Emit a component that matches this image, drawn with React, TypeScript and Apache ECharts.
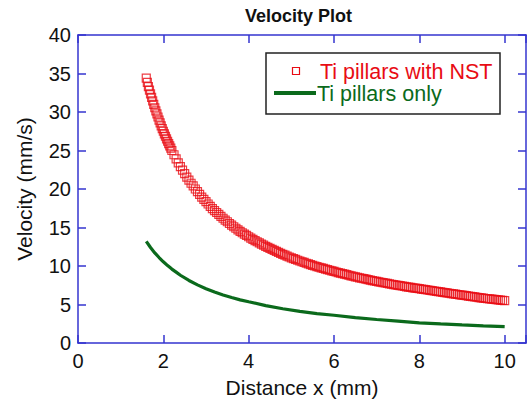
import React, { useEffect, useRef } from "react";
import * as echarts from "echarts";

// Red series: Ti pillars with NST (distance x in mm, velocity in mm/s)
const nstX = [
  1.6, 1.625, 1.65, 1.675, 1.7, 1.725, 1.75, 1.775, 1.8, 1.825, 1.85, 1.875, 1.9, 1.925, 1.95, 1.975,
  2.0, 2.025, 2.05, 2.075, 2.1, 2.125, 2.15, 2.175, 2.2,
  2.25, 2.3, 2.35, 2.4, 2.45, 2.5, 2.55, 2.6, 2.65, 2.7, 2.75, 2.8, 2.85, 2.9, 2.95, 3.0,
  3.05, 3.1, 3.15, 3.2, 3.25, 3.3, 3.35, 3.4, 3.45, 3.5,
  3.55, 3.6, 3.65, 3.7, 3.75, 3.8, 3.85, 3.9, 3.95, 4.0,
  4.05, 4.1, 4.15, 4.2, 4.25, 4.3, 4.35, 4.4, 4.45, 4.5,
  4.55, 4.6, 4.65, 4.7, 4.75, 4.8, 4.85, 4.9, 4.95, 5.0,
  5.05, 5.1, 5.15, 5.2, 5.25, 5.3, 5.35, 5.4, 5.45, 5.5,
  5.55, 5.6, 5.65, 5.7, 5.75, 5.8, 5.85, 5.9, 5.95, 6.0,
  6.05, 6.1, 6.15, 6.2, 6.25, 6.3, 6.35, 6.4, 6.45, 6.5,
  6.55, 6.6, 6.65, 6.7, 6.75, 6.8, 6.85, 6.9, 6.95, 7.0,
  7.05, 7.1, 7.15, 7.2, 7.25, 7.3, 7.35, 7.4, 7.45, 7.5,
  7.55, 7.6, 7.65, 7.7, 7.75, 7.8, 7.85, 7.9, 7.95, 8.0,
  8.05, 8.1, 8.15, 8.2, 8.25, 8.3, 8.35, 8.4, 8.45, 8.5,
  8.55, 8.6, 8.65, 8.7, 8.75, 8.8, 8.85, 8.9, 8.95, 9.0,
  9.05, 9.1, 9.15, 9.2, 9.25, 9.3, 9.35, 9.4, 9.45, 9.5,
  9.55, 9.6, 9.65, 9.7, 9.75, 9.8, 9.85, 9.9, 9.95, 10.0,
];
const nstV = [
  34.4, 33.85, 33.3, 32.85, 32.35, 31.9, 31.45, 31.0, 30.55, 30.15, 29.75, 29.35, 28.95, 28.6, 28.2, 27.85,
  27.5, 27.15, 26.85, 26.5, 26.2, 25.9, 25.6, 25.3, 25.0,
  24.45, 23.9, 23.4, 22.9, 22.45, 22.0, 21.55, 21.15, 20.75, 20.4, 20.0, 19.65, 19.3, 18.95, 18.65, 18.35,
  18.05, 17.75, 17.45, 17.2, 16.95, 16.7, 16.45, 16.2, 15.95, 15.75,
  15.52, 15.3, 15.1, 14.9, 14.7, 14.5, 14.32, 14.15, 13.97, 13.8,
  13.63, 13.46, 13.3, 13.15, 13.0, 12.85, 12.7, 12.56, 12.42, 12.28,
  12.15, 12.02, 11.89, 11.76, 11.64, 11.52, 11.4, 11.28, 11.17, 11.06,
  10.96, 10.85, 10.75, 10.65, 10.55, 10.46, 10.36, 10.27, 10.18, 10.09,
  10.0, 9.92, 9.84, 9.76, 9.68, 9.6, 9.52, 9.45, 9.37, 9.3,
  9.22, 9.15, 9.08, 9.01, 8.94, 8.87, 8.8, 8.73, 8.67, 8.6,
  8.54, 8.47, 8.41, 8.35, 8.29, 8.23, 8.17, 8.11, 8.05, 8.0,
  7.94, 7.89, 7.84, 7.79, 7.74, 7.68, 7.63, 7.58, 7.53, 7.48,
  7.44, 7.4, 7.35, 7.3, 7.26, 7.22, 7.17, 7.13, 7.09, 7.05,
  7.0, 6.96, 6.92, 6.88, 6.84, 6.79, 6.75, 6.71, 6.67, 6.63,
  6.58, 6.54, 6.5, 6.46, 6.42, 6.38, 6.34, 6.3, 6.26, 6.22,
  6.18, 6.14, 6.1, 6.06, 6.02, 5.98, 5.94, 5.9, 5.86, 5.82,
  5.78, 5.75, 5.72, 5.69, 5.66, 5.63, 5.6, 5.57, 5.54, 5.5,
];

// Green series: Ti pillars only
const onlyX = [
  1.6, 1.7, 1.8, 1.9, 2.0, 2.1, 2.2, 2.3, 2.4, 2.6, 2.8, 3.0, 3.2, 3.4, 3.6, 3.8, 4.0,
  4.4, 4.8, 5.2, 5.6, 6.0, 6.5, 7.0, 7.5, 8.0, 8.5, 9.0, 9.5, 10.0,
];
const onlyV = [
  13.2, 12.4, 11.7, 11.1, 10.55, 10.05, 9.6, 9.2, 8.8, 8.12, 7.55, 7.05, 6.62, 6.24, 5.9, 5.6, 5.35,
  4.86, 4.45, 4.1, 3.82, 3.6, 3.3, 3.05, 2.84, 2.62, 2.48, 2.35, 2.23, 2.12,
];

const xTicks = [0, 2, 4, 6, 8, 10];
const seriesNames = ["Ti pillars with NST", "Ti pillars only"];

const FONT = "'Liberation Sans', Arial, sans-serif";
const AXIS_COLOR = "#3434cf";
const RED = "#e80c14";
const GREEN = "#0b6a1c";

export default function App() {
  const ref = useRef<HTMLDivElement>(null);

  useEffect(() => {
    document.body.style.margin = "0";
    if (!ref.current) return;
    const chart = echarts.init(ref.current, null, { renderer: "svg" });

    const axisCommon = {
      axisLine: { show: true, onZero: false, lineStyle: { color: AXIS_COLOR, width: 1.5 } },
      axisTick: { show: true, inside: true, length: 8, lineStyle: { color: AXIS_COLOR, width: 1.5 } },
      splitLine: { show: false },
    };

    chart.setOption({
      animation: false,
      backgroundColor: "#ffffff",
      title: {
        text: "Velocity Plot",
        left: 240,
        top: 2,
        textStyle: { fontFamily: FONT, fontSize: 18, fontWeight: "bold", color: "#111" },
      },
      grid: { left: 78, right: 1, top: 35, bottom: 63, containLabel: false },
      xAxis: [
        {
          ...axisCommon,
          type: "value",
          position: "bottom",
          min: 0,
          max: 10.5,
          interval: 2,
          name: "Distance x (mm)",
          nameLocation: "middle",
          nameGap: 34,
          nameTextStyle: { fontFamily: FONT, fontSize: 21, color: "#111" },
          axisLabel: {
            fontFamily: FONT,
            fontSize: 20,
            color: "#111",
            margin: 8,
            formatter: (v: number) => (xTicks.includes(v) ? String(v) : ""),
          },
        },
        {
          ...axisCommon,
          type: "value",
          position: "top",
          min: 0,
          max: 10.5,
          interval: 2,
          axisLabel: { show: false },
        },
      ],
      yAxis: [
        {
          ...axisCommon,
          type: "value",
          position: "left",
          min: 0,
          max: 40,
          interval: 5,
          name: "Velocity (mm/s)",
          nameLocation: "middle",
          nameGap: 43,
          nameTextStyle: { fontFamily: FONT, fontSize: 21, color: "#111" },
          axisLabel: { fontFamily: FONT, fontSize: 20, color: "#111", margin: 7 },
        },
        {
          ...axisCommon,
          type: "value",
          position: "right",
          min: 0,
          max: 40,
          interval: 5,
          axisLabel: { show: false },
        },
      ],
      series: [
        {
          name: seriesNames[0],
          type: "scatter",
          symbol: "rect",
          symbolSize: 8,
          itemStyle: { color: "rgba(0,0,0,0)", borderColor: RED, borderWidth: 1.2 },
          data: nstX.map((x, i) => [x, nstV[i]]),
        },
        {
          name: seriesNames[1],
          type: "line",
          showSymbol: false,
          smooth: false,
          lineStyle: { color: GREEN, width: 3.2 },
          itemStyle: { color: GREEN },
          data: onlyX.map((x, i) => [x, onlyV[i]]),
        },
      ],
      graphic: [
        {
          type: "rect",
          shape: { x: 266, y: 53, width: 234, height: 61 },
          style: { fill: "#fff", stroke: "#222", lineWidth: 1.5 },
          z: 10,
        },
        {
          type: "rect",
          shape: { x: 292.5, y: 67.5, width: 7, height: 7 },
          style: { fill: "none", stroke: RED, lineWidth: 1.2 },
          z: 11,
        },
        {
          type: "text",
          x: 320,
          y: 72,
          style: {
            text: seriesNames[0],
            fill: RED,
            font: `21.5px ${FONT}`,
            verticalAlign: "middle",
          },
          z: 11,
        },
        {
          type: "line",
          shape: { x1: 274, y1: 93, x2: 316, y2: 93 },
          style: { stroke: GREEN, lineWidth: 4 },
          z: 11,
        },
        {
          type: "text",
          x: 317,
          y: 94,
          style: {
            text: seriesNames[1],
            fill: GREEN,
            font: `21.5px ${FONT}`,
            verticalAlign: "middle",
          },
          z: 11,
        },
      ],
    });

    return () => chart.dispose();
  }, []);

  return <div ref={ref} style={{ width: 529, height: 406 }} />;
}
